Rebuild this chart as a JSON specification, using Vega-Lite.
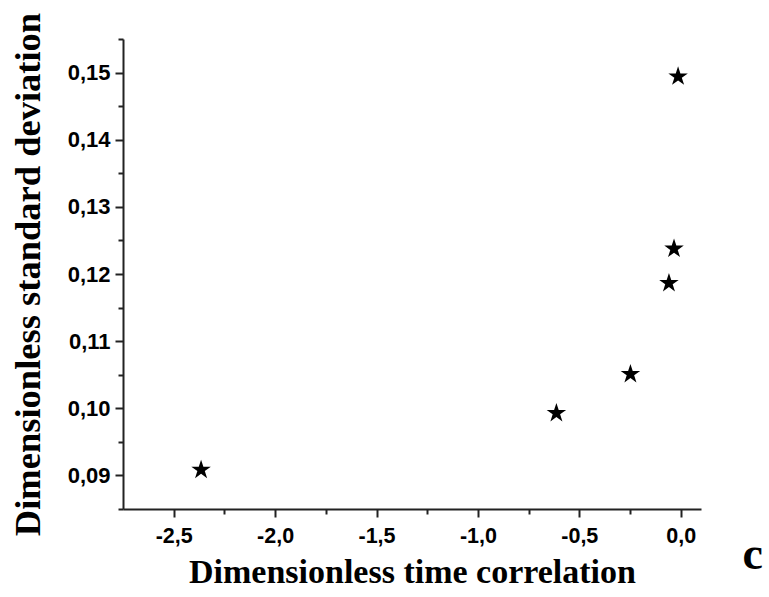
{
  "$schema": "https://vega.github.io/schema/vega-lite/v6.json",
  "width": 578,
  "height": 470,
  "autosize": {"type": "none"},
  "padding": {"left": 123, "top": 39, "right": 68, "bottom": 88},
  "background": "white",
  "config": {"view": {"stroke": null}},
  "title": {
    "text": "c",
    "orient": "bottom",
    "anchor": "end",
    "font": "Liberation Serif",
    "fontWeight": "bold",
    "fontSize": 46,
    "color": "#000",
    "dx": 62,
    "offset": -57
  },
  "data": {
    "values": [
      {"corr": -2.365, "sd": 0.09097},
      {"corr": -0.613, "sd": 0.09942},
      {"corr": -0.248, "sd": 0.10523},
      {"corr": -0.058, "sd": 0.11878},
      {"corr": -0.033, "sd": 0.1239},
      {"corr": -0.013, "sd": 0.14955}
    ]
  },
  "mark": {
    "type": "point",
    "shape": "M0,-0.905L0.2245,-0.214L0.9511,-0.214L0.3633,0.213L0.5878,0.904L0,0.477L-0.5878,0.904L-0.3633,0.213L-0.9511,-0.214L-0.2245,-0.214Z",
    "filled": true,
    "color": "#000",
    "opacity": 1,
    "size": 420
  },
  "encoding": {
    "x": {
      "field": "corr",
      "type": "quantitative",
      "scale": {"domain": [-2.75, 0.1], "nice": false, "zero": false},
      "axis": {
        "title": "Dimensionless time correlation",
        "titleFont": "Liberation Serif",
        "titleFontWeight": "bold",
        "titleFontSize": 34,
        "titleColor": "#000",
        "titlePadding": 9,
        "grid": false,
        "values": [-2.5, -2.25, -2.0, -1.75, -1.5, -1.25, -1.0, -0.75, -0.5, -0.25, 0.0],
        "labelExpr": "abs(datum.value*2 - round(datum.value*2)) < 0.001 ? replace(replace(format(datum.value, '.1f'), '.', ','), '\u2212', '-') : ''",
        "labelFont": "Liberation Sans",
        "labelFontWeight": "bold",
        "labelFontSize": 21.5,
        "labelColor": "#000",
        "labelPadding": 8,
        "labelFlush": false,
        "labelOverlap": false,
        "tickSize": {"condition": {"test": "abs(datum.value*2 - round(datum.value*2)) < 0.001", "value": 8}, "value": 5},
        "tickWidth": 2,
        "tickColor": "#222",
        "domainWidth": 2,
        "domainColor": "#222"
      }
    },
    "y": {
      "field": "sd",
      "type": "quantitative",
      "scale": {"domain": [0.085, 0.155], "nice": false, "zero": false},
      "axis": {
        "title": "Dimensionless standard deviation",
        "titleFont": "Liberation Serif",
        "titleFontWeight": "bold",
        "titleFontSize": 36.5,
        "titleColor": "#000",
        "titlePadding": 20,
        "grid": false,
        "values": [0.085, 0.09, 0.095, 0.1, 0.105, 0.11, 0.115, 0.12, 0.125, 0.13, 0.135, 0.14, 0.145, 0.15, 0.155],
        "labelExpr": "abs(datum.value*100 - round(datum.value*100)) < 0.001 ? replace(format(datum.value, '.2f'), '.', ',') : ''",
        "labelFont": "Liberation Sans",
        "labelFontWeight": "bold",
        "labelFontSize": 22,
        "labelColor": "#000",
        "labelPadding": 5,
        "labelFlush": false,
        "labelOverlap": false,
        "tickSize": {"condition": {"test": "abs(datum.value*100 - round(datum.value*100)) < 0.001", "value": 8}, "value": 5},
        "tickWidth": 2,
        "tickColor": "#222",
        "domainWidth": 2,
        "domainColor": "#222"
      }
    }
  }
}
